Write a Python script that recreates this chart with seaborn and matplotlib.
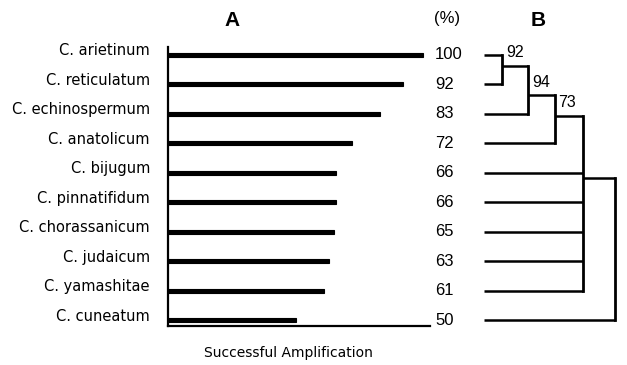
import matplotlib
matplotlib.use("Agg")
import matplotlib.pyplot as plt
import matplotlib.transforms as mtransforms
import seaborn as sns
import pandas as pd

species = ["C. arietinum", "C. reticulatum", "C. echinospermum", "C. anatolicum",
           "C. bijugum", "C. pinnatifidum", "C. chorassanicum", "C. judaicum",
           "C. yamashitae", "C. cuneatum"]
amplification = [100, 92, 83, 72, 66, 66, 65, 63, 61, 50]

# dendrogram: leaves are species indices, internal nodes "n0".."n4"
merge_children = [[0, 1], ["n0", 2], ["n1", 3], ["n2", 4, 5, 6, 7, 8], ["n3", 9]]
merge_heights = [0.7, 1.7, 2.7, 3.8, 5.0]
node_out_y = [0.37, 1.36, 2.07, 4.18, None]
support = ["92", "94", "73", "", ""]

sns.set_theme(style="white")
plt.rcParams["font.family"] = ["DejaVu Sans"]
plt.rcParams["text.color"] = "black"

NUMFONT = ["Liberation Sans", "DejaVu Sans"]

W, H = 627, 365
fig = plt.figure(figsize=(W / 100, H / 100), dpi=100)

def px_rect(x0, y0, x1, y1):
    return [x0 / W, 1 - y1 / H, (x1 - x0) / W, (y1 - y0) / H]

axA = fig.add_axes(px_rect(168, 47, 430, 326))
df = pd.DataFrame({"species": species, "amp": amplification})
sns.barplot(data=df, x="amp", y="species", orient="h", color="black",
            width=0.14, ax=axA, saturation=1, edgecolor="black", linewidth=0.8)
axA.set_xlim(0, 100 * (430 - 168) / 255)
axA.set_ylim(9.2, -0.27)
axA.set_xlabel("")
axA.set_ylabel("")
axA.set_xticks([])
axA.set_yticks([])
for s in ["top", "right"]:
    axA.spines[s].set_visible(False)
for s in ["left", "bottom"]:
    axA.spines[s].set_color("black")
    axA.spines[s].set_linewidth(1.6)

lab_tr = mtransforms.offset_copy(
    mtransforms.blended_transform_factory(axA.transAxes, axA.transData),
    fig=fig, x=-18, y=4, units="dots")
pct_tr = mtransforms.offset_copy(
    mtransforms.blended_transform_factory(axA.transAxes, axA.transData),
    fig=fig, x=5, y=0, units="dots")
for i, (name, v) in enumerate(zip(species, amplification)):
    axA.text(0, i, name, transform=lab_tr, ha="right", va="center",
             fontsize=10.5, color="black")
    axA.text(1, i, str(v), transform=pct_tr, ha="left", va="center",
             fontsize=12, color="black", family=NUMFONT)

# dendrogram
axB = fig.add_axes(px_rect(484, 47, 620, 326), sharey=axA)
axB.set_xlim(0, 5.2)
axB.axis("off")

def child_pos(c):
    if isinstance(c, str):
        k = int(c[1:])
        return merge_heights[k], node_out_y[k]
    return 0.0, c

lw = 1.8
for k, children in enumerate(merge_children):
    nx = merge_heights[k]
    ys = []
    for c in children:
        cx, cy = child_pos(c)
        axB.plot([cx, nx], [cy, cy], color="black", lw=lw, solid_capstyle="butt")
        ys.append(cy)
    axB.plot([nx, nx], [min(ys), max(ys)], color="black", lw=lw + 0.2,
             solid_capstyle="projecting")
    if support[k]:
        tr = mtransforms.offset_copy(axB.transData, fig=fig, x=4, y=13, units="dots")
        axB.text(nx, node_out_y[k], support[k], transform=tr, ha="left", va="center",
                 fontsize=11.5, family=NUMFONT)

fig.text(232 / W, 1 - 21 / H, "A", ha="center", va="center", fontsize=15,
         fontweight="bold", family=NUMFONT)
fig.text(538 / W, 1 - 20 / H, "B", ha="center", va="center", fontsize=15,
         fontweight="bold", family=NUMFONT)
fig.text(447 / W, 1 - 19 / H, "(%)", ha="center", va="center", fontsize=12,
         family=NUMFONT)
fig.text(288 / W, 1 - 353 / H, "Successful Amplification", ha="center",
         va="center", fontsize=10)

fig.savefig("out.png", dpi=100, facecolor="white")
